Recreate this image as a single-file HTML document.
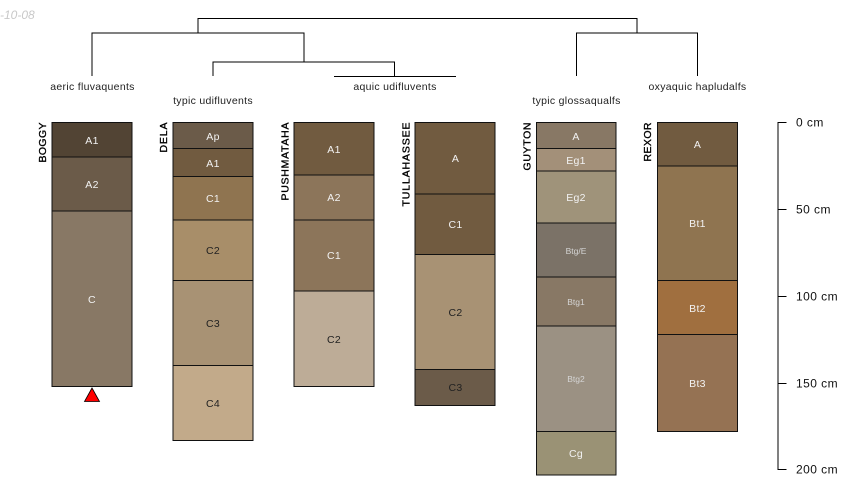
<!DOCTYPE html>
<html><head><meta charset="utf-8"><style>
html,body{margin:0;padding:0;background:#fff}
svg{display:block}
text{font-family:"Liberation Sans",sans-serif}
.h{font-size:10.5px;text-anchor:middle;letter-spacing:.3px}
.s{font-size:8.5px;text-anchor:middle}
.t{font-size:10.5px;text-anchor:middle;fill:#222;letter-spacing:.3px}
.n{font-size:10.5px;text-anchor:end;fill:#000;stroke:#000;stroke-width:.35px}
.d{font-size:12px;fill:#111;letter-spacing:.45px}
</style></head><body>
<svg width="850" height="500" viewBox="0 0 850 500" xmlns="http://www.w3.org/2000/svg">
<text x="0" y="19" font-size="12px" font-style="italic" fill="#c8c8c8">-10-08</text>

<g fill="none" stroke="#000" stroke-width="1">
<path d="M198 33V18.500H637V33"/>
<path d="M92 76V33H304V62"/>
<path d="M213 76V62H394.500V76"/>
<path d="M334 76.500H456"/>
<path d="M576.500 76V33H697.500V76"/>
</g>
<g fill="#222">
<text class="t" x="92.500" y="90">aeric fluvaquents</text>
<text class="t" x="213" y="104">typic udifluvents</text>
<text class="t" x="395" y="90">aquic udifluvents</text>
<text class="t" x="576.500" y="104">typic glossaqualfs</text>
<text class="t" x="697.500" y="90">oxyaquic hapludalfs</text>
</g>

<g stroke="#111" stroke-width="1">
<rect x="52" y="122.500" width="80" height="34.500" fill="#524434"/>
<rect x="52" y="157" width="80" height="54" fill="#6b5b49"/>
<rect x="52" y="211" width="80" height="175.500" fill="#887865"/>

<rect x="173" y="122.500" width="80" height="26" fill="#6b5b49"/>
<rect x="173" y="148.500" width="80" height="28" fill="#715b40"/>
<rect x="173" y="176.500" width="80" height="43.500" fill="#8f7450"/>
<rect x="173" y="220" width="80" height="60.500" fill="#a88e69"/>
<rect x="173" y="280.500" width="80" height="85" fill="#a89274"/>
<rect x="173" y="365.500" width="80" height="75" fill="#c2aa8a"/>

<rect x="294" y="122.500" width="80" height="52.500" fill="#715b40"/>
<rect x="294" y="175" width="80" height="45" fill="#8c755a"/>
<rect x="294" y="220" width="80" height="71" fill="#8c755a"/>
<rect x="294" y="291" width="80" height="95.500" fill="#bdac97"/>

<rect x="415" y="122.500" width="80" height="71.500" fill="#715b40"/>
<rect x="415" y="194" width="80" height="60.500" fill="#715b40"/>
<rect x="415" y="254.500" width="80" height="115" fill="#a89274"/>
<rect x="415" y="369.500" width="80" height="36" fill="#6b5b49"/>

<rect x="536.500" y="122.500" width="79.500" height="26" fill="#887865"/>
<rect x="536.500" y="148.500" width="79.500" height="22.500" fill="#a39079"/>
<rect x="536.500" y="171" width="79.500" height="52" fill="#9f937a"/>
<rect x="536.500" y="223" width="79.500" height="54" fill="#7b7267"/>
<rect x="536.500" y="277" width="79.500" height="49" fill="#887865"/>
<rect x="536.500" y="326" width="79.500" height="105.500" fill="#9b9183"/>
<rect x="536.500" y="431.500" width="79.500" height="43.500" fill="#9a9275"/>

<rect x="657.500" y="122.500" width="80" height="43.500" fill="#715b40"/>
<rect x="657.500" y="166" width="80" height="114.500" fill="#8f7450"/>
<rect x="657.500" y="280.500" width="80" height="54" fill="#a06f3f"/>
<rect x="657.500" y="334.500" width="80" height="97" fill="#957253"/>
</g>

<g class="hz" fill="#f2f2f2">
<text class="h" x="92" y="144">A1</text>
<text class="h" x="92" y="188">A2</text>
<text class="h" x="92" y="303">C</text>
<text class="h" x="213" y="140">Ap</text>
<text class="h" x="213" y="167">A1</text>
<text class="h" x="213" y="202">C1</text>
<text class="h" x="213" y="254" fill="#222">C2</text>
<text class="h" x="213" y="327" fill="#222">C3</text>
<text class="h" x="213" y="407" fill="#222">C4</text>
<text class="h" x="334" y="153">A1</text>
<text class="h" x="334" y="201">A2</text>
<text class="h" x="334" y="259">C1</text>
<text class="h" x="334" y="343" fill="#222">C2</text>
<text class="h" x="455.500" y="162">A</text>
<text class="h" x="455.500" y="228">C1</text>
<text class="h" x="455.500" y="316" fill="#222">C2</text>
<text class="h" x="455.500" y="391" fill="#222">C3</text>
<text class="h" x="576" y="140">A</text>
<text class="h" x="576" y="164">Eg1</text>
<text class="h" x="576" y="201">Eg2</text>
<text class="s" x="576" y="254" fill="#d5d5d5">Btg/E</text>
<text class="s" x="576" y="305" fill="#d5d5d5">Btg1</text>
<text class="s" x="576" y="382" fill="#d5d5d5">Btg2</text>
<text class="h" x="576" y="457">Cg</text>
<text class="h" x="697.500" y="148">A</text>
<text class="h" x="697.500" y="227">Bt1</text>
<text class="h" x="697.500" y="312">Bt2</text>
<text class="h" x="697.500" y="387">Bt3</text>
</g>

<text class="n" transform="translate(46,122.500) rotate(-90)" textLength="40">BOGGY</text>
<text class="n" transform="translate(167,122.500) rotate(-90)" textLength="30">DELA</text>
<text class="n" transform="translate(288.500,122.500) rotate(-90)" textLength="78">PUSHMATAHA</text>
<text class="n" transform="translate(409.500,122.500) rotate(-90)" textLength="84">TULLAHASSEE</text>
<text class="n" transform="translate(530.500,122.500) rotate(-90)" textLength="48">GUYTON</text>
<text class="n" transform="translate(651,122.500) rotate(-90)" textLength="39">REXOR</text>

<polygon points="92,388 84.500,401.500 99.500,401.500" fill="#ff0000" stroke="#000" stroke-width="0.800"/>

<g fill="none" stroke="#000" stroke-width="1">
<path d="M786.500 122.500H778V469.500H786.500"/>
<path d="M778 209.500H786.500M778 296.500H786.500M778 383.500H786.500"/>
</g>
<text class="d" x="796" y="126.500">0 cm</text>
<text class="d" x="796" y="213.500">50 cm</text>
<text class="d" x="796" y="300.500">100 cm</text>
<text class="d" x="796" y="387.500">150 cm</text>
<text class="d" x="796" y="473.500">200 cm</text>
</svg>
</body></html>
